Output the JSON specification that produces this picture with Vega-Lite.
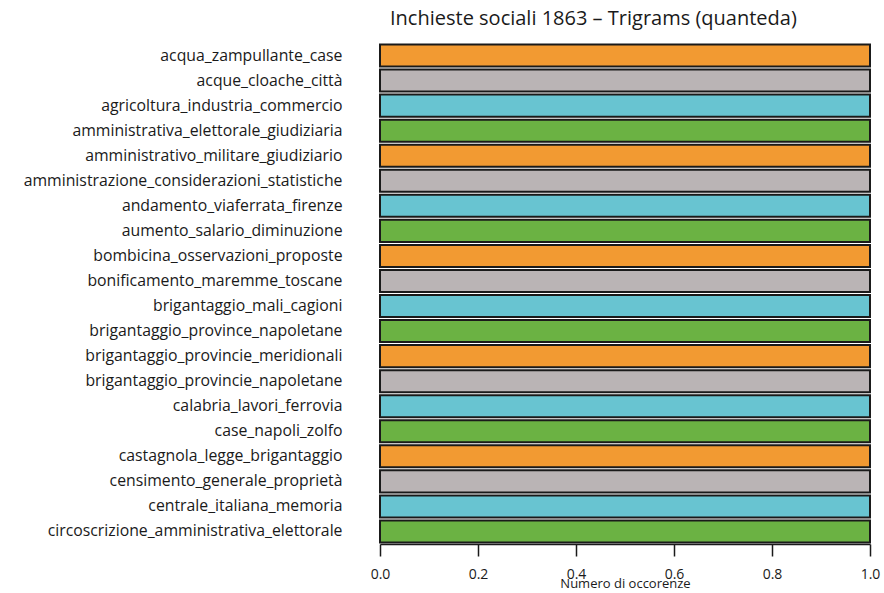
{
  "$schema": "https://vega.github.io/schema/vega-lite/v6.json",
  "width": 490,
  "height": 501,
  "autosize": {"type": "none"},
  "padding": {"left": 380, "top": 43, "right": 14, "bottom": 49},
  "background": "white",
  "title": {
    "text": "Inchieste sociali 1863 – Trigrams (quanteda)",
    "anchor": "start",
    "frame": "group",
    "dx": 10,
    "offset": 14,
    "font": "Open Sans",
    "fontSize": 20,
    "fontWeight": "normal",
    "color": "#1a1a1a"
  },
  "data": {
    "values": [
      {"trigram": "acqua_zampullante_case", "n": 1, "gruppo": "a"},
      {"trigram": "acque_cloache_città", "n": 1, "gruppo": "b"},
      {"trigram": "agricoltura_industria_commercio", "n": 1, "gruppo": "c"},
      {"trigram": "amministrativa_elettorale_giudiziaria", "n": 1, "gruppo": "d"},
      {"trigram": "amministrativo_militare_giudiziario", "n": 1, "gruppo": "a"},
      {"trigram": "amministrazione_considerazioni_statistiche", "n": 1, "gruppo": "b"},
      {"trigram": "andamento_viaferrata_firenze", "n": 1, "gruppo": "c"},
      {"trigram": "aumento_salario_diminuzione", "n": 1, "gruppo": "d"},
      {"trigram": "bombicina_osservazioni_proposte", "n": 1, "gruppo": "a"},
      {"trigram": "bonificamento_maremme_toscane", "n": 1, "gruppo": "b"},
      {"trigram": "brigantaggio_mali_cagioni", "n": 1, "gruppo": "c"},
      {"trigram": "brigantaggio_province_napoletane", "n": 1, "gruppo": "d"},
      {"trigram": "brigantaggio_provincie_meridionali", "n": 1, "gruppo": "a"},
      {"trigram": "brigantaggio_provincie_napoletane", "n": 1, "gruppo": "b"},
      {"trigram": "calabria_lavori_ferrovia", "n": 1, "gruppo": "c"},
      {"trigram": "case_napoli_zolfo", "n": 1, "gruppo": "d"},
      {"trigram": "castagnola_legge_brigantaggio", "n": 1, "gruppo": "a"},
      {"trigram": "censimento_generale_proprietà", "n": 1, "gruppo": "b"},
      {"trigram": "centrale_italiana_memoria", "n": 1, "gruppo": "c"},
      {"trigram": "circoscrizione_amministrativa_elettorale", "n": 1, "gruppo": "d"}
    ]
  },
  "mark": {"type": "bar", "stroke": "#1a1a1a", "strokeWidth": 2, "cornerRadius": 0},
  "encoding": {
    "y": {
      "field": "trigram",
      "type": "nominal",
      "sort": null,
      "scale": {"paddingInner": 0.12, "paddingOuter": 0.06},
      "axis": {
        "title": null,
        "domain": false,
        "ticks": false,
        "labelPadding": 38,
        "labelFont": "Open Sans",
        "labelFontSize": 15.8,
        "labelColor": "#1a1a1a",
        "labelLimit": 400
      }
    },
    "x": {
      "field": "n",
      "type": "quantitative",
      "scale": {"domain": [0, 1], "nice": false},
      "axis": {
        "title": "Numero di occorenze",
        "titleFont": "Open Sans",
        "titleFontSize": 13,
        "titleFontWeight": "normal",
        "titleColor": "#1a1a1a",
        "titlePadding": -4,
        "values": [0, 0.2, 0.4, 0.6, 0.8, 1],
        "format": ".1f",
        "grid": false,
        "domainColor": "#1a1a1a",
        "domainWidth": 1.5,
        "tickColor": "#1a1a1a",
        "tickWidth": 1.5,
        "tickSize": 12,
        "labelPadding": 11,
        "labelFont": "Open Sans",
        "labelFontSize": 14,
        "labelColor": "#1a1a1a",
        "labelFlush": false
      }
    },
    "color": {
      "field": "gruppo",
      "type": "nominal",
      "legend": null,
      "scale": {"domain": ["a", "b", "c", "d"], "range": ["#F29A32", "#BAB4B5", "#68C4D1", "#6BB243"]}
    }
  },
  "config": {"view": {"stroke": null}}
}
